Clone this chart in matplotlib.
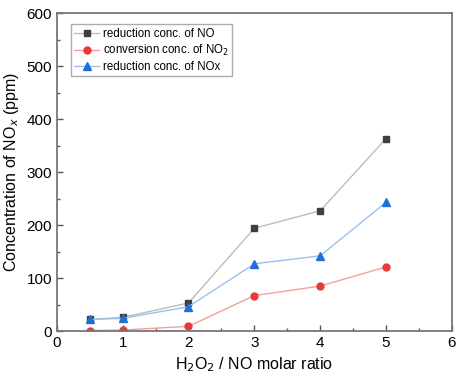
import numpy as np
import matplotlib.pyplot as plt

plt.rcParams['font.family'] = ['Liberation Sans', 'DejaVu Sans']

ratio = [0.5, 1, 2, 3, 4, 5]
no_red = [22, 26, 53, 194, 227, 363]
no2_conv = [1, 2, 9, 67, 85, 121]
nox_red = [22, 24, 46, 127, 142, 243]

fig = plt.figure(figsize=(4.62, 3.85), dpi=100)
ax = fig.add_axes([0.123, 0.140, 0.855, 0.826])

ax.plot(ratio, no_red, '-', color='#bdbdbd', lw=1, marker='s', ms=4.5,
        mfc='#3f3f3f', mec='#3f3f3f', label='reduction conc. of NO')
ax.plot(ratio, no2_conv, '-', color='#f4a0a0', lw=1, marker='o', ms=5,
        mfc='#e83a3a', mec='#e83a3a', label='conversion conc. of NO$_2$')
ax.plot(ratio, nox_red, '-', color='#9cc0ec', lw=1, marker='^', ms=5.5,
        mfc='#1f6fd8', mec='#1f6fd8', label='reduction conc. of NOx')

ax.set_xlim(0, 6)
ax.set_ylim(0, 600)
ax.set_xticks(range(0, 7))
ax.set_yticks(range(0, 700, 100))
ax.set_xticks(np.arange(0.5, 6, 1), minor=True)
ax.set_yticks(range(50, 600, 100), minor=True)
ax.tick_params(direction='in', labelsize=11, length=4, width=1, color='#555555')
ax.tick_params(which='minor', direction='in', length=2.5, width=1, color='#555555')
for s in ax.spines.values():
    s.set_color('#777777')
    s.set_linewidth(1.3)

ax.set_xlabel('H$_2$O$_2$ / NO molar ratio', fontsize=11.5)
ax.set_ylabel('Concentration of NO$_x$ (ppm)', fontsize=11.5)

leg = ax.legend(loc='upper left', bbox_to_anchor=(0.035, 0.965), fontsize=8.3,
                frameon=True, fancybox=False, edgecolor='#999999',
                handlelength=2.2, borderpad=0.3, labelspacing=0.25,
                handletextpad=0.3, borderaxespad=0)

fig.savefig('out.png', dpi=100)
